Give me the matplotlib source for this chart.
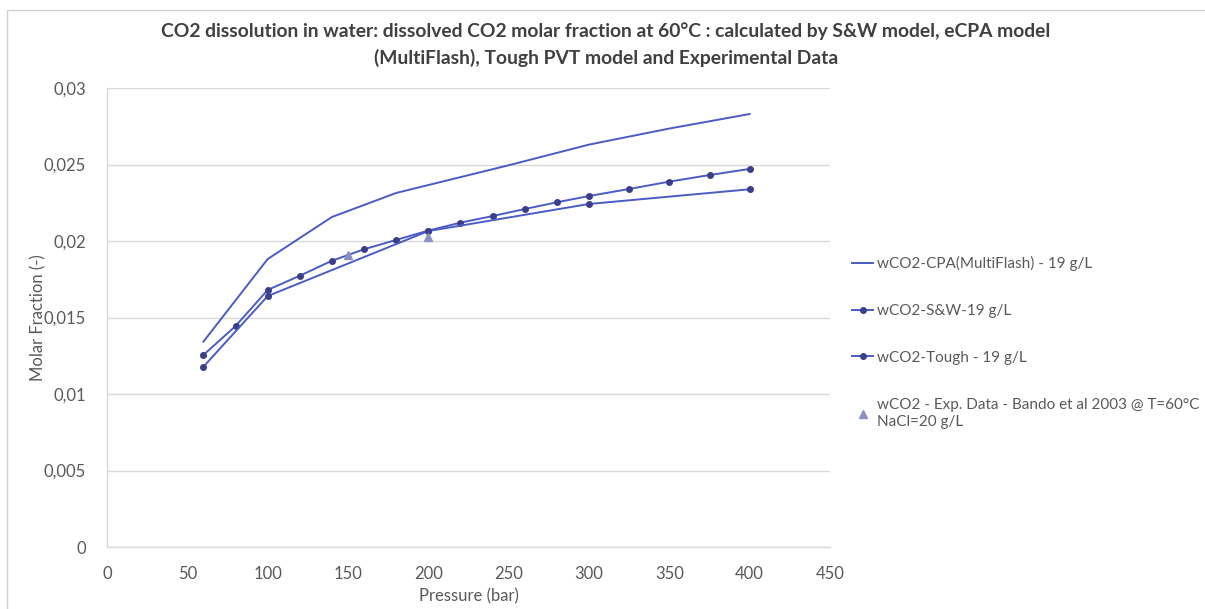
import matplotlib
matplotlib.use("Agg")
import matplotlib.pyplot as plt
from matplotlib.patches import Rectangle
from matplotlib.ticker import FuncFormatter, MultipleLocator

plt.rcParams['font.family'] = ['Lato', 'DejaVu Sans']

# eCPA (MultiFlash) solubility curve
cpa_p = [60, 100, 140, 180, 250, 300, 350, 400]
cpa_x = [0.01342, 0.01882, 0.02157, 0.02314, 0.02495, 0.02630, 0.02735, 0.02830]

# Spycher & Pruess (S&W) model
sw_p = [60, 80, 100, 120, 140, 160, 180, 200, 220, 240, 260, 280, 300, 325, 350, 375, 400]
sw_x = [0.01255, 0.01444, 0.01680, 0.01773, 0.01871, 0.01946, 0.02007, 0.02068,
        0.02120, 0.02163, 0.02209, 0.02253, 0.02294, 0.02340, 0.02388, 0.02431, 0.02471]

# TOUGH PVT model
tough_p = [60, 100, 200, 300, 400]
tough_x = [0.01178, 0.01640, 0.02065, 0.02242, 0.02338]

# Bando et al. 2003 experimental points
exp_p = [150, 200]
exp_x = [0.01908, 0.02028]

line_col = '#4a5bc4'
mark_col = '#3b3f8a'
text_col = '#595959'

fig = plt.figure(figsize=(12.05, 6.09), dpi=100)
fig.patch.set_facecolor('white')

# thin chart-area border
fig.patches.append(Rectangle((7 / 1205, -0.05), 1.2, (609 - 10) / 609 + 0.05,
                             transform=fig.transFigure, fill=False,
                             edgecolor='#d0d0d0', linewidth=1.0, zorder=0))

ax = fig.add_axes([107 / 1205, 62 / 609, 723 / 1205, 459 / 609])

ax.plot(cpa_p, cpa_x, color=line_col, lw=1.4, label='wCO2-CPA(MultiFlash) - 19 g/L', zorder=3)
ax.plot(sw_p, sw_x, color=line_col, lw=1.4, marker='o', ms=4,
        mfc=mark_col, mec=mark_col, label='wCO2-S&W-19 g/L', zorder=4)
ax.plot(tough_p, tough_x, color=line_col, lw=1.4, marker='o', ms=4,
        mfc=mark_col, mec=mark_col, label='wCO2-Tough - 19 g/L', zorder=4)
ax.plot(exp_p, exp_x, linestyle='none', marker='^', ms=6, color='#8a8fc6',
        label='wCO2 - Exp. Data - Bando et al 2003 @ T=60°C\nNaCl=20 g/L', zorder=5)

ax.set_xlim(0, 450)
ax.set_ylim(0, 0.03)
ax.xaxis.set_major_locator(MultipleLocator(50))
ax.yaxis.set_major_locator(MultipleLocator(0.005))
ax.yaxis.set_major_formatter(FuncFormatter(lambda v, _: ('%g' % round(v, 4)).replace('.', ',')))

ax.grid(axis='y', color='#d9d9d9', lw=1.0)
ax.set_axisbelow(True)
for side in ('top', 'right'):
    ax.spines[side].set_visible(False)
for side in ('left', 'bottom'):
    ax.spines[side].set_color('#d9d9d9')
    ax.spines[side].set_linewidth(1.0)
ax.tick_params(length=0, labelsize=12, labelcolor=text_col)
ax.tick_params(axis='x', pad=14)
ax.tick_params(axis='y', pad=15)

ax.set_xlabel('Pressure (bar)', fontsize=12, color=text_col, labelpad=4)
ax.set_ylabel('Molar Fraction (-)', fontsize=12, color=text_col, labelpad=-2)

fig.text(0.503, 0.964,
         'CO2 dissolution in water: dissolved CO2 molar fraction at 60°C : calculated by S&W model, eCPA model\n'
         '(MultiFlash), Tough PVT model and Experimental Data',
         ha='center', va='top', fontsize=13.9, fontweight='bold', color='#404040',
         linespacing=1.6)

leg = ax.legend(loc='upper left', bbox_to_anchor=(852 / 1205, (609 - 256) / 609),
                bbox_transform=fig.transFigure, frameon=False, fontsize=11,
                labelcolor=text_col, handlelength=1.4, handletextpad=0.25,
                labelspacing=2.15, borderaxespad=0, borderpad=0)
for t in leg.get_texts():
    t.set_linespacing(1.35)

fig.savefig('out.png', dpi=100, facecolor='white')
